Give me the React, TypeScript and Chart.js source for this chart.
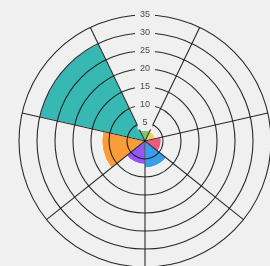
import React, { useEffect, useRef } from "react";
import { Chart, registerables } from "chart.js";

Chart.register(...registerables);

const categories = ["A", "B", "C", "D", "E", "F", "G"];
const values = [3, 3, 4.5, 7.5, 6.5, 12, 30];
const colors = ["#7cc76a", "#f2cf52", "#f25a7c", "#3a9fe8", "#9656f4", "#f99d3a", "#38b8b3"];
const tickMin = 0;
const tickMax = 35;
const tickStep = 5;

const BG = "#f0f0f0";

export default function App() {
  const ref = useRef<HTMLCanvasElement | null>(null);

  useEffect(() => {
    document.body.style.background = BG;
    const canvas = ref.current;
    if (!canvas) return;
    const tickFont = { family: "'Liberation Sans', Arial, sans-serif", size: 9 };
    const chart = new Chart(canvas, {
      type: "polarArea",
      data: {
        labels: categories,
        datasets: [
          {
            data: values,
            backgroundColor: colors,
            borderColor: "rgba(255,255,255,0.9)",
            borderWidth: 1,
          },
        ],
      },
      options: {
        responsive: false,
        animation: false,
        devicePixelRatio: 1,
        plugins: { legend: { display: false }, tooltip: { enabled: false } },
        scales: {
          r: {
            type: "radialLinear",
            min: tickMin,
            max: tickMax,
            startAngle: -180 / 7,
            ticks: {
              stepSize: tickStep,
              display: true,
              color: "rgba(0,0,0,0)",
              showLabelBackdrop: false,
              font: tickFont,
              backdropPadding: { x: 5, y: 2 },
            },
            grid: { circular: true, color: "rgba(20,20,20,0.9)", lineWidth: 1.1, z: 1 },
            angleLines: { display: true, color: "rgba(20,20,20,0.9)", lineWidth: 1.1 },
            pointLabels: { display: false },
          },
          r2: {
            type: "radialLinear",
            min: tickMin,
            max: tickMax,
            startAngle: 0,
            ticks: {
              stepSize: tickStep,
              display: true,
              color: "#4a4a4a",
              showLabelBackdrop: true,
              backdropColor: BG,
              font: tickFont,
              backdropPadding: { x: 5, y: 2 },
              z: 2,
            },
            grid: { display: false },
            angleLines: { display: false },
            pointLabels: { display: false },
          },
        } as any,
      },
    });
    return () => chart.destroy();
  }, []);

  return (
    <div style={{ position: "fixed", inset: 0, overflow: "hidden", background: BG }}>
      <canvas
        ref={ref}
        width={265}
        height={265}
        style={{ position: "absolute", left: 13, top: 9, width: 265, height: 265 }}
      />
    </div>
  );
}
